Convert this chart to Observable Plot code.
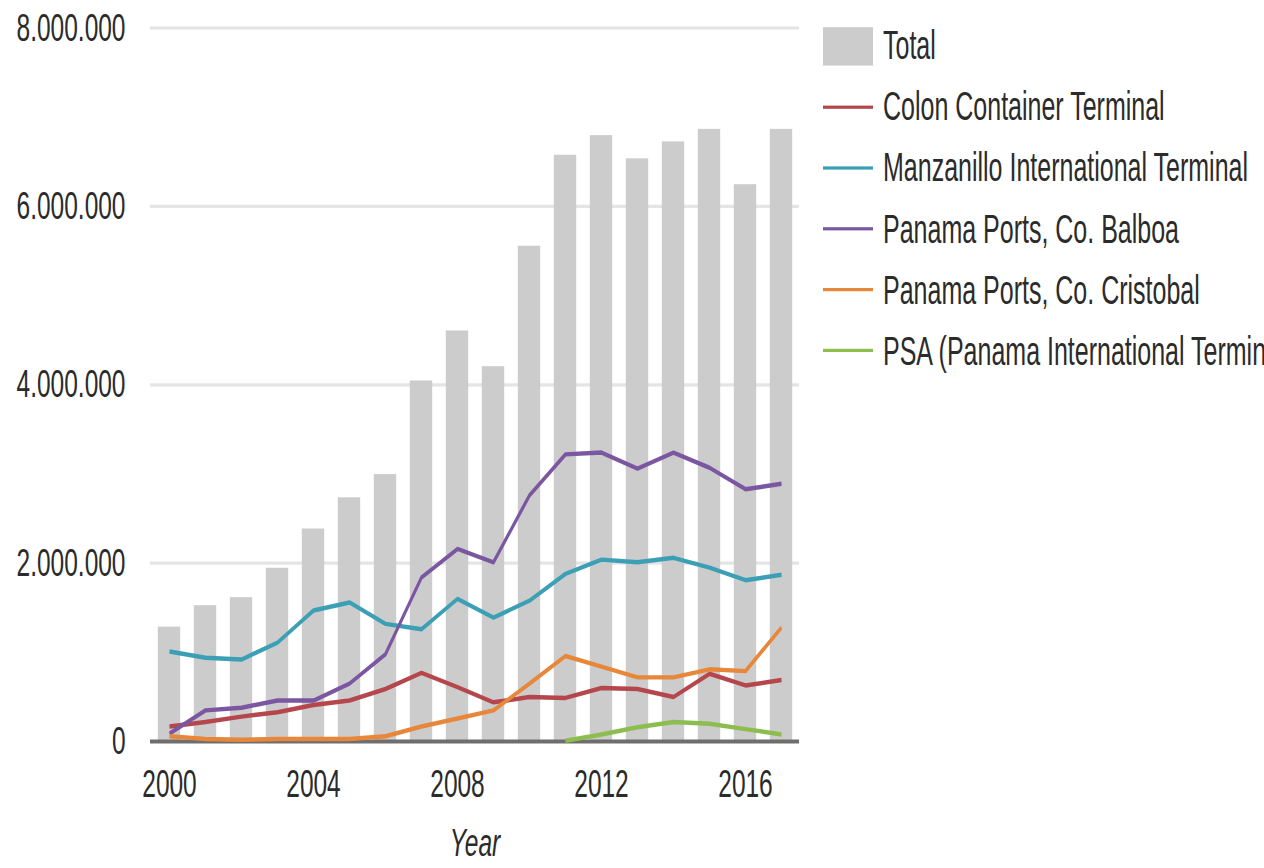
<!DOCTYPE html>
<html>
<head>
<meta charset="utf-8">
<script src="https://cdn.jsdelivr.net/npm/d3@7"></script>
<script src="https://cdn.jsdelivr.net/npm/@observablehq/plot@0.6"></script>
<style>
  html, body { margin: 0; padding: 0; background: #fff; overflow: hidden; width: 1264px; height: 868px; }
  #wrap { position: relative; width: 1264px; height: 542.5px; transform: scaleY(1.6); transform-origin: 0 0; overflow: hidden; font-family: "Liberation Sans", Arial, sans-serif; }
  #chart { position: absolute; left: 0; top: 0; }
  #legend { position: absolute; left: 823px; top: 9.7px; width: 441px; overflow: hidden; }
  .item { display: flex; align-items: center; height: 38.1px; white-space: nowrap; font-size: 25px; color: #2b2b2b; }
  .sw { width: 50px; flex: none; margin-right: 10px; }
</style>
</head>
<body>
<div id="wrap">
  <div id="chart"></div>
  <div id="legend"></div>
</div>
<script>
const years = [2000,2001,2002,2003,2004,2005,2006,2007,2008,2009,2010,2011,2012,2013,2014,2015,2016,2017];
const total      = [1.28,1.52,1.61,1.94,2.38,2.73,2.99,4.04,4.60,4.20,5.55,6.57,6.79,6.53,6.72,6.86,6.24,6.86].map(v => v * 1e6);
const colon      = [0.17,0.22,0.28,0.33,0.41,0.46,0.59,0.77,0.61,0.44,0.50,0.49,0.60,0.59,0.50,0.76,0.63,0.69].map(v => v * 1e6);
const manzanillo = [1.01,0.94,0.92,1.11,1.47,1.56,1.32,1.26,1.60,1.39,1.58,1.88,2.04,2.01,2.06,1.95,1.81,1.87].map(v => v * 1e6);
const balboa     = [0.09,0.35,0.38,0.46,0.46,0.65,0.98,1.84,2.16,2.01,2.76,3.22,3.24,3.06,3.24,3.07,2.83,2.89].map(v => v * 1e6);
const cristobal  = [0.06,0.03,0.02,0.03,0.03,0.03,0.06,0.17,0.26,0.35,0.65,0.96,0.84,0.72,0.72,0.81,0.79,1.28].map(v => v * 1e6);
const psa        = [null,null,null,null,null,null,null,null,null,null,null,0.01,0.08,0.16,0.22,0.20,0.14,0.08].map(v => v == null ? null : v * 1e6);

const seriesNames = ["Colon Container Terminal","Manzanillo International Terminal","Panama Ports, Co. Balboa","Panama Ports, Co. Cristobal","PSA (Panama International Terminal)"];
const seriesValues = [colon, manzanillo, balboa, cristobal, psa];
const seriesColors = ["#b5464b","#3b9fb5","#7a57a0","#e8873a","#8dbd4e"];
const totalName = "Total";
const totalColor = "#cccccc";

const yTicks = [0, 2e6, 4e6, 6e6, 8e6];
const xTicks = [2000, 2004, 2008, 2012, 2016];
const xLabel = "Year";

const fmt = d3.formatLocale({decimal: ",", thousands: ".", grouping: [3], currency: ["", ""]}).format(",d");

const totalData = years.map((year, i) => ({year, value: total[i]}));

const lineMarks = seriesValues.map((vals, s) =>
  Plot.line(years.map((year, i) => ({year, value: vals[i]})), {
    x: "year", y: "value", stroke: seriesColors[s], strokeWidth: 2.8,
    strokeLinejoin: "round", strokeLinecap: "butt"
  })
);

const plot = Plot.plot({
  width: 810,
  height: 542,
  marginLeft: 150,
  marginRight: 11,
  marginTop: 17,
  marginBottom: 79,
  style: {fontFamily: "'Liberation Sans', Arial, sans-serif", fontSize: "24.5px", color: "#2b2b2b", background: "transparent"},
  x: {type: "band", domain: years, padding: 0},
  y: {domain: [0, 8e6]},
  marks: [
    Plot.gridY(yTicks.filter(d => d > 0), {stroke: "#e4e4e4", strokeOpacity: 1, strokeWidth: 2}),
    Plot.barY(totalData, {x: "year", y: "value", fill: totalColor, insetLeft: 6.8, insetRight: 6.8}),
    Plot.ruleY([0], {stroke: "#6e6e6e", strokeWidth: 2.5}),
    ...lineMarks,
    Plot.axisY(yTicks, {tickSize: 0, tickPadding: 25, tickFormat: fmt, label: null, fill: "#2b2b2b"}),
    Plot.axisX(xTicks, {tickSize: 0, tickPadding: 17, tickFormat: d => String(d), label: null, fill: "#2b2b2b"}),
    Plot.text([xLabel], {frameAnchor: "bottom", dy: 63.6, lineAnchor: "middle", fontStyle: "italic", fill: "#2b2b2b", fontSize: 24.5, text: d => d})
  ]
});
document.getElementById("chart").appendChild(plot);

// Legend
const legend = document.getElementById("legend");
const mkItem = (name, color, isBar) => {
  const it = document.createElement("div");
  it.className = "item";
  const sw = document.createElement("span");
  sw.className = "sw";
  sw.style.background = color;
  sw.style.height = isBar ? "23.7px" : "2.5px";
  const tx = document.createElement("span");
  tx.textContent = name;
  it.appendChild(sw);
  it.appendChild(tx);
  legend.appendChild(it);
};
mkItem(totalName, totalColor, true);
seriesNames.forEach((n, i) => mkItem(n, seriesColors[i], false));
</script>
</body>
</html>
